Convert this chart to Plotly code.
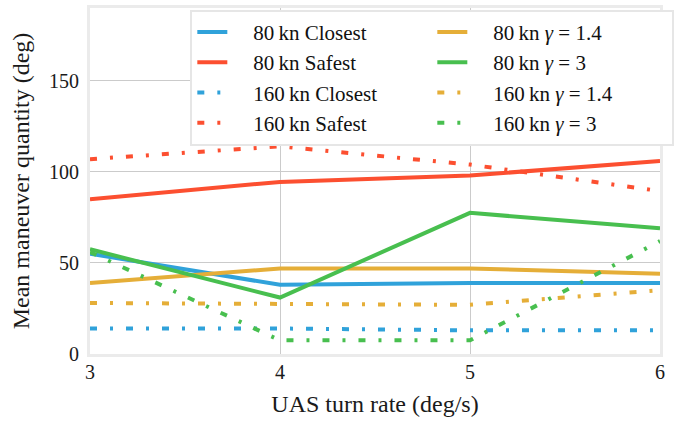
import plotly.graph_objects as go

turn_rate = [3, 4, 5, 6]

closest_80 = [55, 38, 39, 39]
safest_80 = [85, 94.5, 98, 106]
closest_160 = [14, 14, 13, 13]
safest_160 = [107, 114, 104, 89.5]
g14_80 = [39, 47, 47, 44]
g3_80 = [57.5, 31, 77.5, 69]
g14_160 = [28, 27.5, 27, 35]
g3_160 = [56, 7.5, 7.5, 62]

PAD = "\u2002\u2002"
names = ["80\u2009kn Closest", "80\u2009kn Safest", "160\u2009kn Closest", "160\u2009kn Safest",
         "80\u2009kn <i>γ</i> = 1.4", "80\u2009kn <i>γ</i> = 3",
         "160\u2009kn <i>γ</i> = 1.4", "160\u2009kn <i>γ</i> = 3"]

BLUE = "#30a2da"
RED = "#fc4f30"
ORANGE = "#e5ae38"
GREEN = "#48bf4f"
DD = "7px,13px,3px,13px"

series = [
    (closest_80, names[0], BLUE, "solid", 1),
    (safest_80, names[1], RED, "solid", 3),
    (closest_160, names[2], BLUE, DD, 5),
    (safest_160, names[3], RED, DD, 7),
    (g14_80, names[4], ORANGE, "solid", 2),
    (g3_80, names[5], GREEN, "solid", 4),
    (g14_160, names[6], ORANGE, DD, 6),
    (g3_160, names[7], GREEN, DD, 8),
]

fig = go.Figure()
for vals, name, color, dash, rank in series:
    fig.add_trace(go.Scatter(x=turn_rate, y=vals, mode="lines", name=PAD + name,
                             line=dict(color=color, width=4, dash=dash),
                             legendrank=rank))

FONT = "Liberation Serif"
fig.update_layout(
    width=689, height=424,
    margin=dict(l=90, r=29, t=5, b=70),
    paper_bgcolor="white", plot_bgcolor="white",
    font=dict(family=FONT, size=20, color="#1a1a1a"),
    showlegend=True,
    legend=dict(orientation="h", x=0.176, y=0.995, xanchor="left", yanchor="top",
                entrywidth=195, entrywidthmode="pixels",
                bgcolor="white", bordercolor="#e6e6e6", borderwidth=2,
                font=dict(family=FONT, size=21, color="#111111"), itemwidth=30),
)
fig.update_xaxes(range=[3, 6], tickvals=[3, 4, 5, 6], showgrid=True, gridcolor="#cbcbcb",
                 gridwidth=1, zeroline=False, showline=True, linecolor="#ebebeb",
                 linewidth=3, mirror=True, ticks="", ticklabelstandoff=-2,
                 title=dict(text="UAS turn rate (deg/s)", standoff=14))
fig.update_yaxes(range=[0, 190], tickvals=[0, 50, 100, 150], showgrid=True, gridcolor="#cbcbcb",
                 gridwidth=1, zeroline=False, showline=True, linecolor="#ebebeb",
                 linewidth=3, mirror=True, ticks="", ticklabelstandoff=4,
                 title=dict(text="Mean maneuver quantity (deg)", standoff=13))

fig.write_html("out.html", config={"displayModeBar": False},
               post_script="document.body.style.margin='0';")
